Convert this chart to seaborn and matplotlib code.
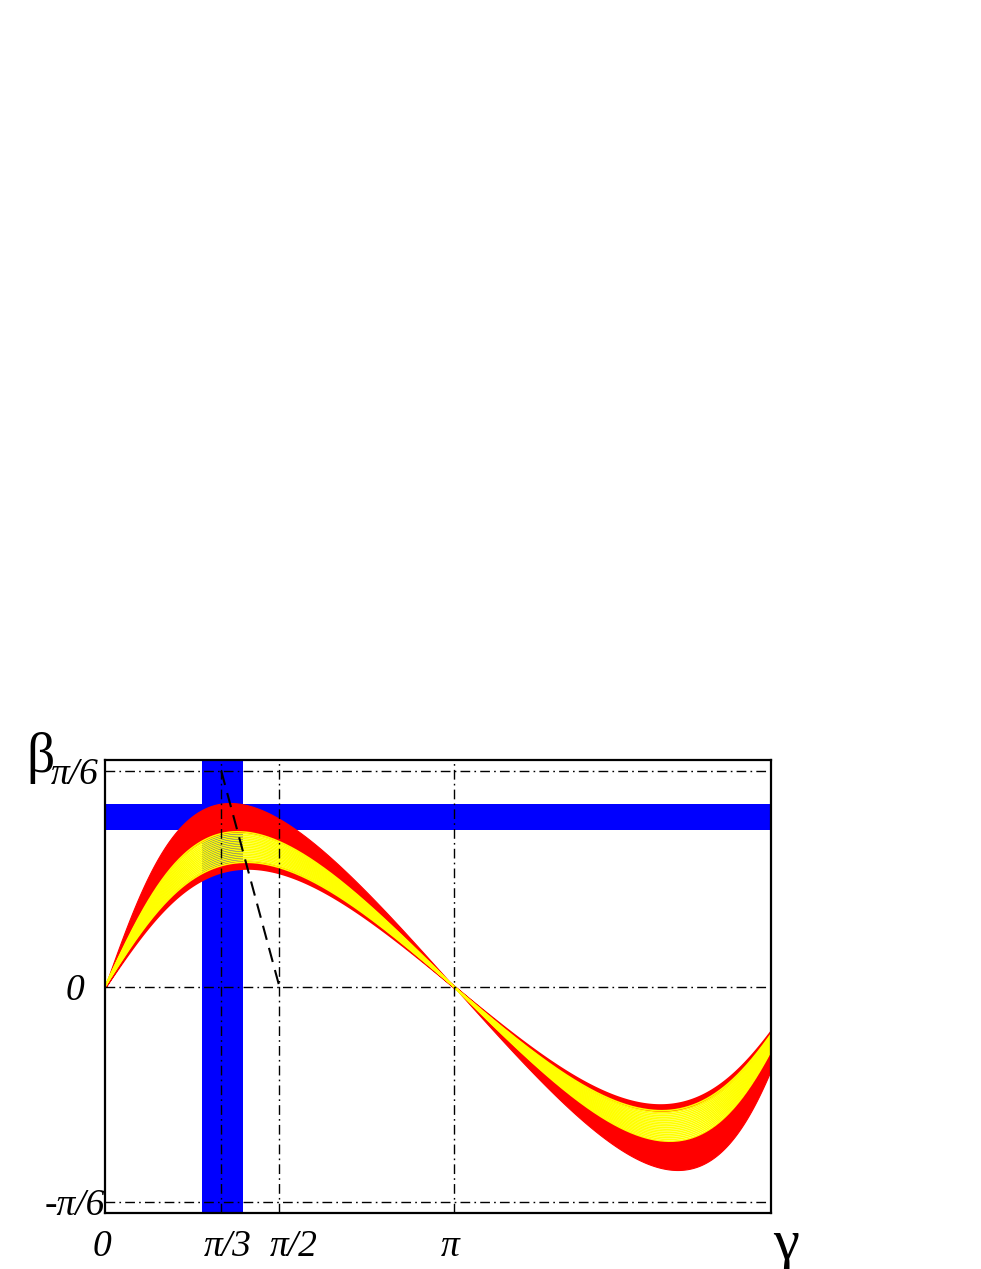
import numpy as np
import pandas as pd
import seaborn as sns
import matplotlib.pyplot as plt
from matplotlib.transforms import ScaledTranslation

rb_red_outer = [0.367, 0.431]
rb_red_inner = [0.284, 0.297]
rb_yellow = [0.297, 0.367]
n_yellow = 19

# blue constraint bands (radians)
beta_band = [0.381, 0.442]
gamma_band = [0.870, 1.245]

# dashed line: beta = pi/2 - gamma between pi/3 and pi/2
dash_gamma = [np.pi / 3, np.pi / 2]
dash_beta = [np.pi / 6, 0.0]

xticks = [0, np.pi / 3, np.pi / 2, np.pi]
xtick_labels = ["0", "π/3", "π/2", "π"]
xtick_shift = [-3, 6, 14, -4]  # pixel nudges of the hand placed labels
yticks = [-np.pi / 6, 0, np.pi / 6]
ytick_labels = ["-π/6", "0", "π/6"]

gamma = np.linspace(0, 6.0, 600)


def beta_of(rb, g):
    # unitarity triangle: tan(beta) = R_b sin(gamma) / (1 - R_b cos(gamma))
    return np.arctan2(rb * np.sin(g), 1 - rb * np.cos(g))


sns.set_theme(style="white")
plt.rcParams["font.family"] = ["Liberation Serif", "DejaVu Serif"]
plt.rcParams["text.color"] = "black"
plt.rcParams["xtick.color"] = "black"
plt.rcParams["ytick.color"] = "black"
plt.rcParams["axes.labelcolor"] = "black"

fig = plt.figure(figsize=(9.81, 12.69), dpi=100)
ax = fig.add_axes([105 / 981, 1 - 1213 / 1269, 666 / 981, 453 / 1269])

# blue bands
ax.axhspan(beta_band[0], beta_band[1], color="#0000ff", lw=0, zorder=1)
ax.axvspan(gamma_band[0], gamma_band[1], color="#0000ff", lw=0, zorder=1)

# red bands
ax.fill_between(gamma, beta_of(rb_red_outer[0], gamma), beta_of(rb_red_outer[1], gamma),
                color="#ff0000", lw=0.8, edgecolor="#ff0000", zorder=2)
ax.fill_between(gamma, beta_of(rb_red_inner[0], gamma), beta_of(rb_red_inner[1], gamma),
                color="#ff0000", lw=2.0, edgecolor="#ff0000", zorder=2)

# yellow band made of thin curves
rows = []
for rb in np.linspace(rb_yellow[0], rb_yellow[1], n_yellow):
    rows.append(pd.DataFrame({"gamma": gamma, "beta": beta_of(rb, gamma), "rb": rb}))
df = pd.concat(rows, ignore_index=True)
sns.lineplot(data=df, x="gamma", y="beta", units="rb", estimator=None,
             color="#ffff00", lw=1.1, ax=ax, zorder=3)

# dashed line
sns.lineplot(x=dash_gamma, y=dash_beta, color="black", lw=1.5, ax=ax, zorder=5,
             linestyle=(0, (7, 4)))

# dash-dot reference lines
dd = (0, (7, 3, 1.2, 3))
for y in yticks:
    ax.axhline(y, color="black", lw=1.0, linestyle=dd, zorder=4)
for x in xticks[1:]:
    ax.axvline(x, color="black", lw=1.0, linestyle=dd, zorder=4)

ax.set_xlim(0, 6.0)
ax.set_ylim(-0.55, 0.55)

ax.set_xticks(xticks)
ax.set_xticklabels(xtick_labels, fontsize=27, style="italic")
ax.set_yticks(yticks)
ax.set_yticklabels(ytick_labels, fontsize=27, style="italic")
for lbl in ax.get_yticklabels():
    lbl.set_ha("center")
ax.tick_params(axis="x", length=0, pad=12)
ax.tick_params(axis="y", length=0, pad=22)
for lbl, dx in zip(ax.get_xticklabels(), xtick_shift):
    lbl.set_transform(lbl.get_transform() + ScaledTranslation(dx / 100, 0, fig.dpi_scale_trans))

ax.set_xlabel("γ", fontsize=42, va="center")
ax.xaxis.set_label_coords((786 - 105) / 666, (1213 - 1245) / 453)
ax.set_ylabel("β", fontsize=40, rotation=0, va="center", ha="center")
ax.yaxis.set_label_coords((41 - 105) / 666, (1213 - 758) / 453)

for s in ax.spines.values():
    s.set_color("black")
    s.set_linewidth(1.6)
    s.set_visible(True)
    s.set_zorder(6)

fig.savefig("out.png", dpi=100, facecolor="white")
